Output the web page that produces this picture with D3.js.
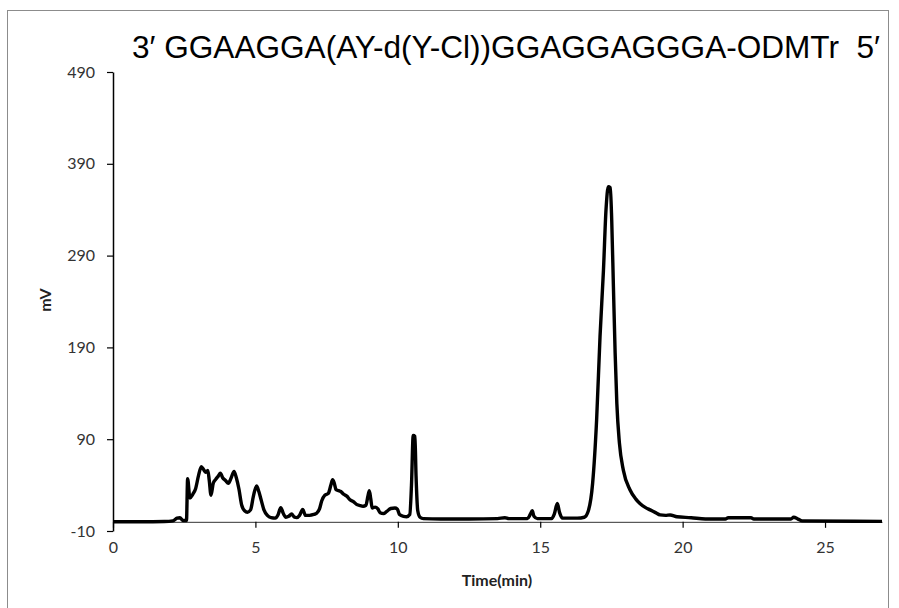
<!DOCTYPE html>
<html>
<head>
<meta charset="utf-8">
<script src="https://cdn.jsdelivr.net/npm/d3@7"></script>
<style>
    body { margin: 0; background: #fff; }
    svg { display: block; }
</style>
</head>
<body>
<div class="chart"></div>
<script>
//Chart text
var title = "3\u2032 GGAAGGA(AY-d(Y-Cl))GGAGGAGGGA-ODMTr  5\u2032";
var xLabel = "Time(min)";
var yLabel = "mV";

//Tick values
var xTicks = [0, 5, 10, 15, 20, 25];
var yTicks = [-10, 90, 190, 290, 390, 490];

//Trace: time (min) and signal (mV)
var time = [0, 1.0, 1.8, 2.1, 2.25, 2.35, 2.45, 2.58, 2.62, 2.70, 2.80, 2.90, 3.0, 3.1, 3.18, 3.25, 3.33, 3.38, 3.44,
    3.52, 3.6, 3.7, 3.77, 3.85, 3.95, 4.05, 4.15, 4.25, 4.33, 4.42, 4.52, 4.62, 4.72, 4.83, 4.93, 5.04, 5.12, 5.2,
    5.3, 5.42, 5.55, 5.7, 5.8, 5.89, 5.98, 6.07, 6.17, 6.27, 6.37, 6.45, 6.55, 6.66, 6.76, 6.9, 7.05, 7.15, 7.25,
    7.33, 7.44, 7.56, 7.65, 7.71, 7.77, 7.83, 7.92, 8.0, 8.1, 8.21, 8.32, 8.44, 8.55, 8.65, 8.78, 8.88, 8.95, 9.0,
    9.05, 9.1, 9.2, 9.3, 9.38, 9.5, 9.6, 9.75, 9.9, 9.98, 10.06, 10.2, 10.31, 10.42, 10.48, 10.54, 10.6, 10.64,
    10.7, 10.78, 10.9, 11.5, 12.5, 13.5, 13.76, 13.9, 14.55, 14.65, 14.72, 14.78, 14.9, 15.4, 15.5, 15.6, 15.68,
    15.78, 16.3, 16.55, 16.69, 16.84, 16.98, 17.10, 17.22, 17.31, 17.39, 17.46, 17.51, 17.57, 17.63, 17.69, 17.78,
    17.92, 18.15, 18.35, 18.5, 18.7, 18.86, 19.05, 19.21, 19.4, 19.56, 19.8, 20.3, 20.8, 21.5, 21.6, 22.4, 22.5,
    23.8, 23.9, 24.05, 24.2, 27];
var signal = [0, 0, 0.3, 1, 4, 4.5, 1.5, 1.5, 47, 26, 30, 36, 50, 60, 57, 54, 56, 45, 29,
    42, 46, 50, 53, 48, 45, 42, 48, 55, 48, 36, 18, 12, 10.5, 13, 28, 39, 33, 24,
    13, 7, 4.5, 4, 8, 15.5, 9, 5, 6, 8.5, 5, 4.6, 7, 13.5, 7, 7, 8, 9.3, 14,
    23, 29, 31, 40, 46, 42, 35, 34, 33, 30, 28, 24, 22, 19, 18, 17, 18, 28, 34,
    25, 15, 16, 14, 10, 9, 11, 14.5, 15, 14, 8, 6, 5.6, 8, 40, 94, 93, 50,
    12, 5, 3.5, 3, 3, 3.5, 4.5, 3.5, 3.5, 8, 12, 6, 3.5, 3.5, 9, 20, 10,
    4, 4, 5, 12, 42, 111, 202, 274, 340, 365, 364, 329, 256, 184, 129, 86,
    56, 35, 25, 20, 15.5, 13, 10, 7.5, 7, 7.5, 5.5, 4.5, 3, 3, 4.5, 4.5, 3,
    3, 5, 3, 1, 0.5];

//Width and height
var w = 899;
var h = 608;

//Create SVG element
var svg = d3.select(".chart")
    .append("svg")
    .attr("width", w)
    .attr("height", h);

//Outer frame
svg.append("rect")
    .attr("x", 7.5)
    .attr("y", 10.5)
    .attr("width", 881)
    .attr("height", 605)
    .attr("fill", "none")
    .attr("stroke", "#8c8c8c")
    .attr("stroke-width", 1);

//Scales
var xScale = d3.scaleLinear()
    .domain([0, 27])
    .range([113, 882]);

var yScale = d3.scaleLinear()
    .domain([-10, 490])
    .range([531, 72]);

//Y axis on the left (plain hyphen for negatives, like the original)
var yAxis = d3.axisLeft(yScale)
    .tickValues(yTicks)
    .tickFormat(d => String(d))
    .tickSize(6)
    .tickSizeOuter(0)
    .tickPadding(12);

var gy = svg.append("g")
    .attr("transform", "translate(" + xScale(0) + ", 0)")
    .call(yAxis);

gy.select(".domain").attr("stroke", "#000").attr("stroke-width", 1.5);
gy.selectAll(".tick line").attr("stroke", "#000").attr("stroke-width", 1.2);
gy.selectAll(".tick text")
    .attr("fill", "#333")
    .style("font-family", "Lato, 'Open Sans', sans-serif")
    .style("font-size", "16px");

//X axis crosses at 0 mV
var xAxis = d3.axisBottom(xScale)
    .tickValues(xTicks)
    .tickFormat(d => String(d))
    .tickSize(6)
    .tickSizeOuter(0)
    .tickPadding(14);

var gx = svg.append("g")
    .attr("transform", "translate(0, " + yScale(0) + ")")
    .call(xAxis);

gx.select(".domain").attr("stroke", "#333").attr("stroke-width", 1);
gx.selectAll(".tick line").attr("stroke", "#000").attr("stroke-width", 1.2);
gx.selectAll(".tick text")
    .attr("fill", "#333")
    .style("font-family", "Lato, 'Open Sans', sans-serif")
    .style("font-size", "16px");

//Trace
var points = time.map((t, i) => [t, signal[i]]);

var line = d3.line()
    .x(d => xScale(d[0]))
    .y(d => yScale(d[1]))
    .curve(d3.curveMonotoneX);

svg.append("path")
    .datum(points)
    .attr("d", line)
    .attr("fill", "none")
    .attr("stroke", "#000")
    .attr("stroke-width", 3.4)
    .attr("stroke-linejoin", "round");

//Title (keep the double space before 5')
svg.append("text")
    .attr("x", 132)
    .attr("y", 58)
    .attr("textLength", 748)
    .attr("lengthAdjust", "spacingAndGlyphs")
    .style("white-space", "pre")
    .style("font-family", "'Liberation Sans', Arial, sans-serif")
    .style("font-size", "31px")
    .attr("fill", "#000")
    .text(title);

//Axis labels
svg.append("text")
    .attr("x", 497)
    .attr("y", 586)
    .attr("text-anchor", "middle")
    .style("font-family", "Lato, 'Open Sans', sans-serif")
    .style("font-size", "16px")
    .style("font-weight", "bold")
    .attr("fill", "#222")
    .text(xLabel);

svg.append("text")
    .attr("transform", "translate(51, 300) rotate(-90)")
    .attr("text-anchor", "middle")
    .style("font-family", "Lato, 'Open Sans', sans-serif")
    .style("font-size", "16px")
    .style("font-weight", "bold")
    .attr("fill", "#222")
    .text(yLabel);
</script>
</body>
</html>
